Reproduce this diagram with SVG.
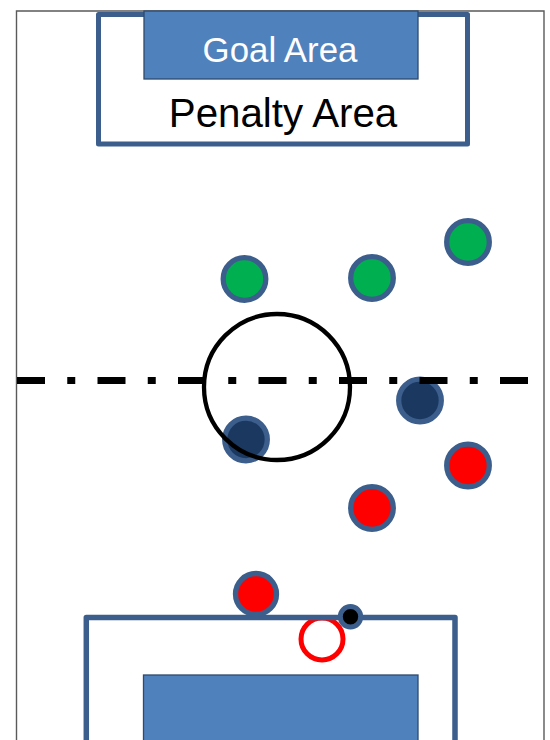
<svg xmlns="http://www.w3.org/2000/svg" width="550" height="740" viewBox="0 0 550 740">
<style>
.area{fill:#ffffff;stroke:#3B5E8C;stroke-width:5;stroke-linejoin:round}
.goal{fill:#4F81BD;stroke:#2E4A6E;stroke-width:1.3}
.ring{stroke:#3B5E8C;stroke-width:5.3}
.green{fill:#00B050}
.red{fill:#FF0000}
.navy{fill:#1B3860}
.lbl{font-family:"Liberation Sans",Arial,sans-serif;text-anchor:middle}
</style>
<rect width="550" height="740" fill="#ffffff"/>
<g id="field">
<path d="M16.5 740 V11 H544 V740" fill="none" stroke="#5A5A5A" stroke-width="1.4"/>
</g>
<g id="top-penalty-area">
<rect class="area" x="98.5" y="14.5" width="369" height="129.5"/>
<text class="lbl" x="283" y="127" font-size="40.3" fill="#000000">Penalty Area</text>
</g>
<g id="top-goal-area">
<rect class="goal" x="144" y="11" width="274" height="68"/>
<text class="lbl" x="280" y="61.7" font-size="34.8" fill="#ffffff">Goal Area</text>
</g>
<g id="green-1"><circle class="ring green" cx="244.5" cy="279" r="21.3"/></g>
<g id="green-2"><circle class="ring green" cx="372" cy="278" r="21.3"/></g>
<g id="green-3"><circle class="ring green" cx="468" cy="242" r="21.3"/></g>
<g id="navy-1"><circle class="ring navy" cx="246" cy="439.5" r="21.3"/></g>
<g id="navy-2"><circle class="ring navy" cx="420" cy="400.5" r="21.3"/></g>
<g id="red-1"><circle class="ring red" cx="468" cy="465.5" r="21.3"/></g>
<g id="red-2"><circle class="ring red" cx="372" cy="508" r="21.3"/></g>
<g id="connectors">
<line id="halfway-line" x1="17" y1="380.5" x2="528" y2="380.5" stroke="#000000" stroke-width="7" stroke-dasharray="28 22.25 8 22.25"/>
</g>
<g id="center-circle">
<circle cx="277" cy="387" r="73" fill="none" stroke="#000000" stroke-width="4.3"/>
</g>
<g id="bottom-goal-area">
<rect class="goal" x="143.5" y="675" width="274.5" height="80"/>
</g>
<g id="red-empty">
<circle cx="322" cy="639" r="21" fill="#ffffff" stroke="#FF0000" stroke-width="5"/>
</g>
<g id="bottom-penalty-area">
<path d="M86.3 760 V617.5 H455 V760" fill="none" stroke="#3B5E8C" stroke-width="5.5" stroke-linejoin="round"/>
</g>
<g id="red-3"><circle class="ring red" cx="256" cy="594" r="20.5"/></g>
<g id="ball"><circle cx="350.5" cy="616.7" r="10.2" fill="#000000" stroke="#3B5E8C" stroke-width="5"/></g>
</svg>
